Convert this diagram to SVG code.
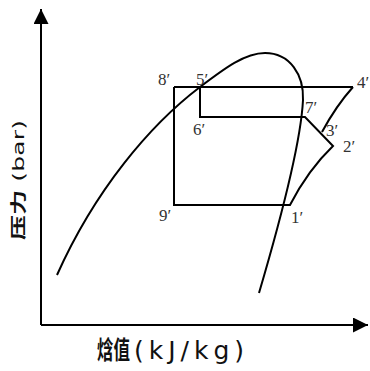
<svg xmlns="http://www.w3.org/2000/svg" width="370" height="371" viewBox="0 0 370 371">
<style>
.ln{fill:none;stroke:#000;stroke-width:2;stroke-linejoin:miter}
.lb{font-family:"Liberation Serif","Times New Roman",serif;font-size:17px;fill:#333}
.ax{font-family:"DejaVu Sans","Noto Sans CJK SC",sans-serif;font-size:25px;fill:#111}
.cn{font-family:"Noto Sans CJK SC",sans-serif;font-weight:bold}
</style>
<defs>
<marker id="ah" viewBox="0 0 10 10" refX="10" refY="5" markerWidth="15" markerHeight="15" markerUnits="userSpaceOnUse" orient="auto">
<path d="M0,0 L10,5 L0,10 z" fill="#000"/>
</marker>
</defs>
<g id="axes">
<path class="ln" d="M41,325 L41,9" marker-end="url(#ah)"/>
<path class="ln" d="M41,325 L368,325" marker-end="url(#ah)"/>
</g>
<g id="dome">
<path class="ln" d="M57,275 C95,190 150,125 200,87 C225,68 245,53 265,53 C290,53 304,75 303,100 C301,140 282,215 259,293"/>
</g>
<g id="cycle">
<path class="ln" d="M174,87 L353,87"/>
<path class="ln" d="M174,87 L174,205 L290,205 Q308,170 333,146 L305,117 L200,117 L200,87"/>
<path class="ln" d="M353,87 Q336,106 322,132"/>
</g>
<g id="labels">
<text class="lb" x="158" y="85">8′</text>
<text class="lb" x="196" y="85">5′</text>
<text class="lb" x="357" y="88">4′</text>
<text class="lb" x="305" y="113">7′</text>
<text class="lb" x="193" y="135">6′</text>
<text class="lb" x="326" y="136">3′</text>
<text class="lb" x="343" y="152">2′</text>
<text class="lb" x="159" y="221">9′</text>
<text class="lb" x="291" y="223">1′</text>
</g>
<g id="axis-labels">
<g transform="translate(24,240) rotate(-90) scale(1,0.63)">
<text class="ax" x="0" y="0" textLength="120" lengthAdjust="spacing"><tspan class="cn">压力</tspan> (bar)</text>
</g>
<g transform="translate(97,359) scale(0.66,1)">
<text class="ax cn" x="0" y="0">焓值</text>
</g>
<text class="ax" x="134" y="359" textLength="110" lengthAdjust="spacing">(kJ/kg)</text>
</g>
</svg>
